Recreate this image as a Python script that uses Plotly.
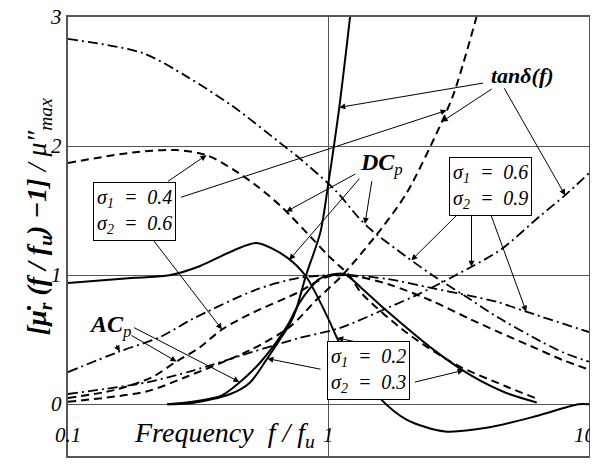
import numpy as np
import plotly.graph_objects as go

# sigma1 = 0.2, sigma2 = 0.3  (solid)
f_dc_s = [0.1, 0.18, 0.245, 0.32, 0.43, 0.53, 0.69, 0.82, 1.0, 1.1, 1.3, 1.57, 2.0, 2.8, 4.1, 6.3, 9.1, 10]
dc_s = [0.94, 0.98, 1.0, 1.07, 1.19, 1.25, 1.14, 0.99, 0.66, 0.48, 0.27, 0.05, -0.12, -0.21, -0.18, -0.09, 0.0, 0.0]
f_ac_s = [0.24, 0.3, 0.39, 0.48, 0.55, 0.63, 0.7, 0.77, 0.85, 0.92, 1.0, 1.15, 1.34, 1.66, 2.58, 3.55, 4.79, 6.3]
ac_s = [0.0, 0.02, 0.07, 0.21, 0.33, 0.48, 0.62, 0.78, 0.9, 0.97, 1.0, 1.01, 0.9, 0.73, 0.41, 0.22, 0.09, 0.015]
f_tan_s = [0.24, 0.3, 0.42, 0.5, 0.58, 0.65, 0.71, 0.75, 0.82, 0.93, 1.0, 1.1, 1.21]
tan_s = [0.0, 0.01, 0.08, 0.17, 0.35, 0.5, 0.62, 0.73, 1.0, 1.33, 1.72, 2.3, 3.0]

# sigma1 = 0.4, sigma2 = 0.6  (dashed)
f_dc_d = [0.1, 0.177, 0.26, 0.34, 0.43, 0.54, 0.66, 0.87, 1.0, 1.2, 1.34, 1.98, 3.07, 4.79, 6.2]
dc_d = [1.87, 1.95, 1.97, 1.93, 1.82, 1.68, 1.53, 1.28, 1.15, 1.0, 0.86, 0.56, 0.31, 0.14, 0.05]
f_ac_d = [0.1, 0.15, 0.21, 0.26, 0.32, 0.39, 0.5, 0.77, 0.9, 1.0, 1.2, 1.7, 2.5, 3.5, 4.5, 6.0, 8.0, 10]
ac_d = [0.05, 0.11, 0.21, 0.33, 0.44, 0.58, 0.7, 0.87, 0.95, 0.99, 1.0, 0.93, 0.8, 0.66, 0.56, 0.45, 0.34, 0.27]
f_tan_d = [0.1, 0.2, 0.29, 0.5, 0.71, 0.9, 1.13, 1.58, 2.0, 2.67, 3.03, 3.7]
tan_d = [0.02, 0.1, 0.22, 0.42, 0.6, 0.81, 1.0, 1.35, 1.64, 2.15, 2.41, 3.0]

# sigma1 = 0.6, sigma2 = 0.9  (dash-dot)
f_dc_dd = [0.1, 0.194, 0.285, 0.428, 0.676, 0.77, 1.06, 1.3, 1.46, 2.0, 2.55, 3.34, 4.5, 6.5, 8.0, 10]
dc_dd = [2.83, 2.72, 2.54, 2.31, 2.0, 1.91, 1.66, 1.45, 1.35, 1.14, 0.99, 0.84, 0.67, 0.49, 0.4, 0.33]
f_ac_dd = [0.1, 0.158, 0.225, 0.3, 0.53, 0.77, 1.0, 1.2, 1.7, 2.5, 3.5, 4.5, 5.7, 10]
ac_dd = [0.25, 0.41, 0.52, 0.66, 0.89, 0.98, 1.0, 1.0, 0.97, 0.9, 0.84, 0.79, 0.72, 0.56]
f_tan_dd = [0.1, 0.2, 0.3, 0.5, 0.76, 1.1, 1.7, 2.2, 3.5, 4.6, 6.5, 8.1, 10]
tan_dd = [0.08, 0.17, 0.26, 0.4, 0.51, 0.59, 0.75, 0.85, 1.06, 1.2, 1.46, 1.62, 1.79]

x_ticks = [0.1, 1, 10]
x_tick_text = ["0.1", "1", "10"]
y_ticks = [3, 2, 1, 0, -0.4]
y_tick_text = ["3", "2", "1", "0", "-0.4"]

SERIF = "Liberation Serif"
DASH = "8px,5px"
DASHDOT = "10px,4px,2px,4px"
NB = "\u00a0"

curves = {
    "dc_s": (f_dc_s, dc_s, "solid", 2),
    "ac_s": (f_ac_s, ac_s, "solid", 2),
    "tan_s": (f_tan_s, tan_s, "solid", 2),
    "dc_d": (f_dc_d, dc_d, DASH, 2),
    "ac_d": (f_ac_d, ac_d, DASH, 2),
    "tan_d": (f_tan_d, tan_d, DASH, 2),
    "dc_dd": (f_dc_dd, dc_dd, DASHDOT, 1.8),
    "ac_dd": (f_ac_dd, ac_dd, DASHDOT, 1.8),
    "tan_dd": (f_tan_dd, tan_dd, DASHDOT, 1.8),
}

fig = go.Figure()
for name, (fx, fy, dash, w) in curves.items():
    fig.add_trace(go.Scatter(x=fx, y=fy, mode="lines", name=name,
                             line=dict(color="black", width=w, dash=dash, shape="spline", smoothing=0.8),
                             showlegend=False))


def on_curve(name, f):
    fx, fy = curves[name][0], curves[name][1]
    return float(np.interp(np.log10(f), np.log10(fx), fy))


annotations = []


def arrow(tail_f, tail_y, name, f):
    annotations.append(dict(
        x=np.log10(f), y=on_curve(name, f), xref="x", yref="y",
        ax=np.log10(tail_f), ay=tail_y, axref="x", ayref="y",
        text="", showarrow=True, arrowhead=2, arrowsize=1.2, arrowwidth=1, arrowcolor="black", standoff=0,
    ))


def label(f, y, text, size=20, box=False):
    d = dict(x=np.log10(f), y=y, xref="x", yref="y", text=text, showarrow=False,
             font=dict(family=SERIF, size=size, color="black"))
    if box:
        d.update(bgcolor="white", bordercolor="black", borderwidth=1, borderpad=3, align="left")
    annotations.append(d)


def sigma_box(s1, s2):
    eq = NB + NB + "=" + NB + NB
    return "<i>σ<sub>1</sub>" + eq + s1 + "<br>σ<sub>2</sub>" + eq + s2 + "</i>"


# tan delta arrows
arrow(3.97, 2.49, "tan_s", 1.1)
arrow(4.29, 2.45, "tan_d", 2.72)
arrow(4.69, 2.46, "tan_dd", 8.1)
# sigma 0.4 / 0.6 box
arrow(0.239, 1.72, "dc_d", 0.34)
arrow(0.268, 1.60, "tan_d", 2.84)
arrow(0.211, 1.28, "ac_d", 0.39)
# DC_p
arrow(1.285, 1.79, "dc_d", 0.688)
arrow(1.33, 1.76, "dc_s", 0.707)
arrow(1.47, 1.74, "dc_dd", 1.38)
# sigma 0.6 / 0.9 box
arrow(3.16, 1.48, "dc_dd", 2.08)
arrow(3.54, 1.48, "tan_dd", 3.54)
arrow(4.18, 1.48, "ac_dd", 5.74)
# AC_p
arrow(0.152, 0.47, "ac_dd", 0.158)
arrow(0.173, 0.54, "ac_d", 0.261)
arrow(0.177, 0.60, "ac_s", 0.455)
# sigma 0.2 / 0.3 box
arrow(1.37, 0.47, "dc_s", 1.08)
arrow(0.944, 0.27, "tan_s", 0.582)
arrow(2.12, 0.17, "ac_s", 3.3)

label(5.55, 2.55, "<b><i>tanδ(f)</i></b>", 22)
label(1.6, 1.86, "<b><i>DC</i></b><sub><i>p</i></sub>", 24)
label(0.145, 0.61, "<b><i>AC</i></b><sub><i>p</i></sub>", 24)
label(0.18, 1.49, sigma_box("0.4", "0.6"), 20, box=True)
label(4.18, 1.69, sigma_box("0.6", "0.9"), 20, box=True)
label(1.43, 0.26, sigma_box("0.2", "0.3"), 20, box=True)

# axis texts
for f, t in zip(x_ticks, x_tick_text):
    annotations.append(dict(x=min(np.log10(f), 0.985), y=-0.24, xref="x", yref="y", text="<i>" + t + "</i>",
                            showarrow=False, font=dict(family=SERIF, size=21, color="black")))
for v, t in zip(y_ticks, y_tick_text):
    annotations.append(dict(x=-0.008, y=v - (0.045 if v < 0 else 0), xref="paper", yref="y", xanchor="right",
                            text="<i>" + t + "</i>", showarrow=False,
                            font=dict(family=SERIF, size=21, color="black")))
annotations.append(dict(x=np.log10(0.398), y=-0.235, xref="x", yref="y",
                        text="<i>Frequency" + NB + " f / f<sub>u</sub></i>", showarrow=False,
                        font=dict(family=SERIF, size=28, color="black")))
annotations.append(dict(x=-0.095, y=1.45, xref="paper", yref="y", textangle=-90,
                        text="<b><i>[μ̇<sub>r</sub> (f / f<sub>u</sub>) −1] </i></b><i>/ μ″<sub>max</sub></i>",
                        showarrow=False, font=dict(family=SERIF, size=28, color="black")))

# the page body adds an 8px offset, so the figure is drawn 8px smaller
fig.update_layout(
    width=590, height=464,
    margin=dict(l=60, r=7, t=9, b=16),
    paper_bgcolor="white", plot_bgcolor="white",
    annotations=annotations,
    xaxis=dict(type="log", range=[-1, 1], tickvals=[1], showticklabels=False, ticks="",
               showgrid=True, gridcolor="#555", gridwidth=1, zeroline=False,
               showline=True, mirror=True, linecolor="#555", linewidth=1.5),
    yaxis=dict(range=[-0.4, 3], tickvals=[0, 1, 2], showticklabels=False, ticks="",
               showgrid=True, gridcolor="#555", gridwidth=1, zeroline=False,
               showline=True, mirror=True, linecolor="#555", linewidth=1.5),
)

fig.write_html("out.html")
